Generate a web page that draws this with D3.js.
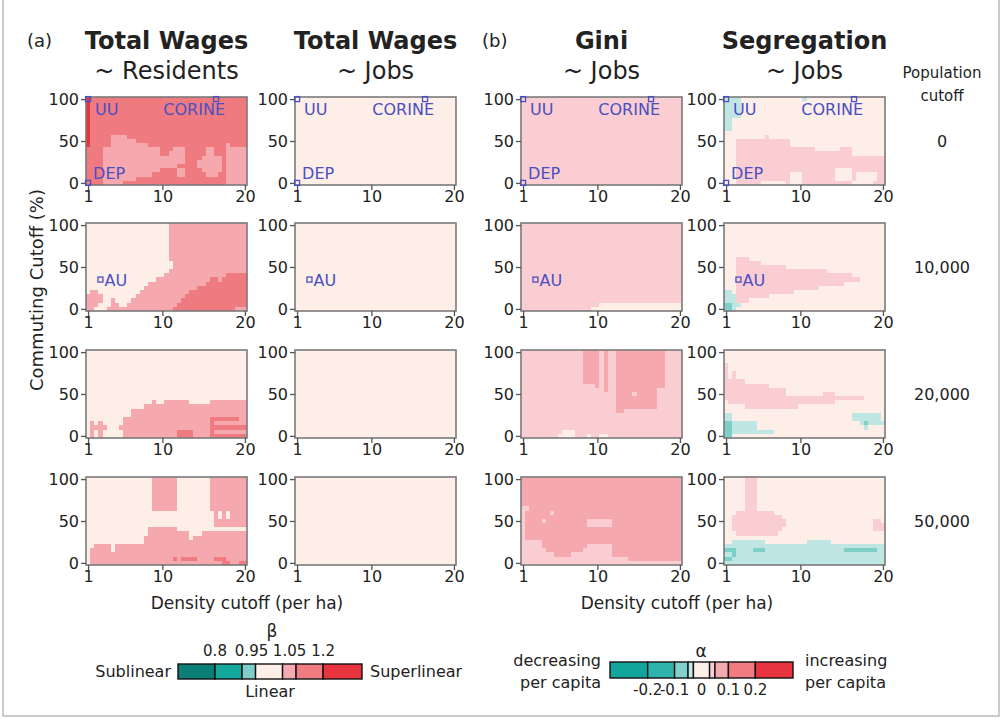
<!DOCTYPE html>
<html><head><meta charset="utf-8">
<script src="https://cdn.jsdelivr.net/npm/d3@7"></script>
<style>body{margin:0;background:#fff}svg{display:block}text{font-family:"DejaVu Sans",Verdana,sans-serif;fill:#222}</style>
</head><body><svg id="chart" width="1002" height="719"></svg>
<script>
// ---------------- data ----------------
const populationCutoffs = ["0", "10,000", "20,000", "50,000"];
const panelTitles = [["Total Wages", "~ Residents"], ["Total Wages", "~ Jobs"], ["Gini", "~ Jobs"], ["Segregation", "~ Jobs"]];
const densityTicks = [1, 10, 20];
const commutingTicks = [0, 50, 100];
const densityCutoffs = d3.range(1, 20.001, 0.5);      // 39 columns
const commutingCutoffs = d3.range(100, -0.001, -5);   // 21 rows (top = 100)

// cell classes, run-length per row (top row = 100 %)
// beta classes: . linear, a 1.05-1.1, b 1.1-1.2, c >1.2
const wagesResidents = [
  ["c1 b38","c1 b38","c1 b38","c1 b38","c1 b38","c1 b38","c1 b38","c1 b38","c1 b38",
   "c1 b5 a4 b29","c1 b5 a6 b27","c1 b5 a9 b19 a1 b4",
   "b4 a14 b3 a3 b5 a2 b3 a5","b4 a14 b2 a4 b5 a2 b3 a5","b4 a20 b4 a5 b1 a5",
   "b4 a20 b3 a6 b1 a5","b4 a18 b5 a6 b1 a5","b4 a14 b4 a2 b4 a5 b1 a5",
   "b4 a12 b6 a2 b5 a3 b2 a5","b4 a8 b22 a5","b4 a5 b25 a5"],
  [".20 a19",".20 a19",".20 a19",".20 a19",".20 a19",".20 a19",".20 a19",".20 a19",".20 a19",
   ".21 a18",".21 a18",".20 a19",".19 a15 b5",".17 a13 b2 a1 b6",".15 a14 b10",
   ".14 a13 b12",".1 a2 .10 a12 b14","a4 .8 a12 b15","a4 .2 a1 .4 a12 b16",
   "a3 .3 a2 .2 a12 b17","a2 .3 a16 b15 a3"],
  [".39",".39",".39",".39",".39",".39",".39",".39",".39",".39",".39",".39",
   ".16 a1 .2 a6 .5 a9",".14 a25",".11 a28",".11 a28",".9 a21 b7 a2",
   ".1 a1 .1 a1 .5 a21 b1 a8",".1 a4 .3 a22 b9",".1 a1 .1 a1 .5 a13 b4 a4 b1 a8",
   ".1 a1 .1 a1 .5 a13 b4 a4 b9"],
  [".16 a6 .8 a9",".16 a6 .8 a9",".16 a6 .8 a9",".16 a6 .8 a9",".16 a6 .8 a9",".16 a6 .8 a9",
   ".16 a6 .8 a9",".16 a6 .8 a9",".31 a1 .1 a1 .1 a4",".31 a1 .1 a1 .1 a4",".31 a8",".31 a8",
   ".15 a7 .17",".15 a10 .3 a11",".14 a11 .1 a13",".14 a25",".2 a4 .1 a32",".1 a5 .1 a32",
   ".1 a38",".1 a20 b1 a1 b4 a4 b3 a5",".1 a32 b2 a2 b2"]
];
const wagesJobs = [[".39"], [".39"], [".39"], [".39"]];
// alpha classes: . linear, p 0.03-0.05, a 0.05-0.1, b 0.1-0.2, q -0.05..-0.03, t -0.1..-0.05
const giniJobs = [
  ["p39"],
  ["p39","p39","p39","p39","p39","p39","p39","p39","p39","p39","p39","p39","p39","p39",
   "p39","p39","p39","p39","p39","p19 .20","p17 .22"],
  ["p15 a4 p1 a1 p2 a12 p4","p15 a4 p1 a1 p2 a12 p4","p15 a4 p1 a1 p2 a12 p4","p15 a4 p1 a1 p2 a12 p4",
   "p15 a4 p1 a1 p2 a12 p4","p15 a4 p1 a1 p2 a12 p4","p15 a4 p1 a1 p2 a12 p4","p15 a4 p1 a1 p2 a12 p4",
   "p18 a1 p1 a1 p2 a12 p4","p20 a1 p2 a10 p6","p23 a4 p1 a5 p6","p23 a10 p6","p23 a10 p6",
   "p23 a10 p6","p23 a2 p14","p39","p39","p39","p39","p10 .3 p26","p9 .4 p3 .1 p2 .2 p18"],
  ["a39","a39","a39","a39","a39","a39","a39","p2 a37","p1 a6 p1 a31","p1 a38",
   "p1 a4 p1 a10 p6 a17","p1 a15 p6 a17","p1 a38","p1 a38","p1 a38","p5 a34",
   "p5 a11 p6 a17","p6 a9 p7 a17","p8 a4 p10 a17","p26 a13","p39"]
];
const segregationJobs = [
  ["q4 .15 q1 .19","q4 .35","q4 .35","q4 .35","q4 .35","q2 .37","q2 .37","q2 .37",".39",
   ".10 p1 .28",".3 p13 .23",".3 p13 .23",".3 p19 .6 p3 .8",".3 p28 .8",".3 p36",".3 p36",
   ".3 p36",".3 p24 .4 p8",".3 p13 .3 p8 .4 p1 .5 p2",".3 p13 .3 p8 .4 p1 .5 p2",
   ".3 p6 .6 p1 .3 p12 .5 p3"],
  [".39",".39",".39",".39",".39",".39",".39",".39",".3 p3 .33",".3 p6 .30",".3 p12 .24",
   ".3 p22 .14",".3 p28 .8",".3 p30 .6",".3 p26 .10",".3 p20 .16","q2 .1 p14 .22",
   "q3 p8 .28","q3 p3 .33","t2 q2 .35","t2 q1 .36"],
  [".39",".39",".39","p1 .38","p1 .38","p1 .1 p1 .36","p1 .1 p1 .36","p5 .34","p11 .28",
   "p15 .24","p15 .9 p3 .12","p34 .5",".1 p26 .12",".5 p13 .21",".39","q2 .29 q7 .1",
   "q2 .29 q7 .1","t2 q6 .25 q1 t1 q4","t2 q6 .26 q1 .4","t2 q10 .27","t2 .37"],
  [".5 p3 .31",".5 p3 .31",".5 p3 .31",".5 p3 .31",".5 p3 .31",".5 p3 .31",".5 p3 .31",
   ".5 p3 .31",".3 p9 .27",".2 p12 .25",".2 p13 .21 p2 .1",".2 p13 .21 p3",".2 p12 .22 p3",
   ".3 p10 .26",".39",".2 q8 .10 q6 .13","q39","t3 q4 t3 q19 t8 q2","q2 t1 q36","t2 q37","q39"]
];
const panelData = [wagesResidents, wagesJobs, giniJobs, segregationJobs];

// annotations (density, commuting)
const markersPop0 = [{label: "UU", x: 1, y: 100}, {label: "CORINE", x: 16.5, y: 100}, {label: "DEP", x: 1, y: 0}];
const markersPop10k = [{label: "AU", x: 2.5, y: 35}];

// legends
const betaEdges = [0.663, 0.8, 0.9, 0.95, 1.05, 1.1, 1.2, 1.344];
const betaColors = ["#0b7f76", "#14a89f", "#7fcdc8", "#fdeee8", "#f6aab0", "#f07b80", "#e8343f"];
const betaTicks = [0.8, 0.95, 1.05, 1.2];
const alphaEdges = [-0.34, -0.2, -0.1, -0.05, -0.03, 0.03, 0.05, 0.1, 0.2, 0.34];
const alphaColors = ["#12a59c", "#30b3ab", "#82d0cb", "#c5e9e6", "#fdeee8", "#f9cdd1", "#f5aab0", "#f07b80", "#e8343f"];
const alphaTicks = [-0.2, -0.1, 0, 0.1, 0.2];

const cellColor = {".": "#fdeee8", p: "#f9cdd1", a: "#f5a9ae", b: "#ef7b80", c: "#e8343f",
                   q: "#bfe6e2", t: "#7fcfc9", u: "#3cb4ac", v: "#12a59c"};

// ---------------- layout ----------------
const svg = d3.select("#chart");
const colX = [86, 295, 521, 724], panelW = 161;
const rowY = [97, 223, 350, 477], panelH = 88;
const blue = "#4a4fc2";

svg.append("rect").attr("x", 3).attr("y", -2).attr("width", 996).attr("height", 718)
  .attr("fill", "none").attr("stroke", "#999").attr("stroke-width", 1);

function decode(rows) {
  const full = rows.length === 1 ? Array(commutingCutoffs.length).fill(rows[0]) : rows;
  const cells = [];
  full.forEach((r, ri) => {
    let ci = 0;
    r.trim().split(/\s+/).forEach(tok => {
      const k = tok[0], n = +tok.slice(1);
      for (let i = 0; i < n; i++) { if (ci < densityCutoffs.length) cells.push({x: densityCutoffs[ci], y: commutingCutoffs[ri], k}); ci++; }
    });
  });
  return cells;
}

panelData.forEach((col, c) => {
  col.forEach((rows, r) => {
    const x0 = colX[c], y0 = rowY[r];
    const xs = d3.scaleLinear().domain([0.75, 20.25]).range([x0, x0 + panelW]);
    const ys = d3.scaleLinear().domain([-2.5, 102.5]).range([y0 + panelH, y0]);
    const g = svg.append("g");
    g.selectAll("rect.cell").data(decode(rows)).join("rect").attr("class", "cell")
      .attr("x", d => xs(d.x - 0.25)).attr("y", d => ys(d.y + 2.5))
      .attr("width", xs(1.25) - xs(0.75) + 0.4).attr("height", ys(0) - ys(5) + 0.4)
      .attr("fill", d => cellColor[d.k]).attr("shape-rendering", "crispEdges");
    g.append("rect").attr("x", x0).attr("y", y0).attr("width", panelW).attr("height", panelH)
      .attr("fill", "none").attr("stroke", "#7a7a7a").attr("stroke-width", 1.6);
    const ya = g.append("g").attr("transform", `translate(${x0},0)`)
      .call(d3.axisLeft(ys).tickValues(commutingTicks).tickSize(5).tickPadding(2));
    const xa = g.append("g").attr("transform", `translate(0,${y0 + panelH})`)
      .call(d3.axisBottom(xs).tickValues(densityTicks).tickSize(5).tickPadding(1));
    [ya, xa].forEach(a => {
      a.select(".domain").remove();
      a.selectAll("line").attr("stroke", "#555").attr("stroke-width", 1.3);
      a.selectAll("text").attr("font-size", 16).attr("fill", "#222")
        .attr("font-family", '"DejaVu Sans",Verdana,sans-serif');
    });
    const marks = r === 0 ? markersPop0 : r === 1 ? markersPop10k : [];
    marks.forEach(m => {
      g.append("rect").attr("x", xs(m.x) - 2.5).attr("y", ys(m.y) - 2.5).attr("width", 5).attr("height", 5)
        .attr("fill", "none").attr("stroke", blue).attr("stroke-width", 1.3);
      const t = g.append("text").text(m.label).attr("font-size", 16).style("fill", blue);
      if (m.label === "UU") t.attr("x", xs(m.x) + 7).attr("y", ys(m.y) + 16);
      else if (m.label === "CORINE") t.attr("x", xs(m.x) + 9).attr("y", ys(m.y) + 16).attr("text-anchor", "end");
      else if (m.label === "DEP") t.attr("x", xs(m.x) + 5).attr("y", ys(m.y) - 4);
      else t.attr("x", xs(m.x) + 4).attr("y", ys(m.y) + 6);
    });
  });
});

// titles
panelTitles.forEach((t, c) => {
  const cx = colX[c] + panelW / 2;
  svg.append("text").attr("x", cx).attr("y", 49).attr("text-anchor", "middle")
    .attr("font-size", 24).attr("font-weight", "bold").text(t[0]);
  svg.append("text").attr("x", cx).attr("y", 79).attr("text-anchor", "middle")
    .attr("font-size", 24).text(t[1]);
});
svg.append("text").attr("x", 27).attr("y", 47).attr("font-size", 18).text("(a)");
svg.append("text").attr("x", 482).attr("y", 47).attr("font-size", 18).text("(b)");
svg.append("text").attr("x", 942).attr("y", 78).attr("text-anchor", "middle").attr("font-size", 15).text("Population");
svg.append("text").attr("x", 942).attr("y", 101).attr("text-anchor", "middle").attr("font-size", 15).text("cutoff");
populationCutoffs.forEach((p, r) => {
  svg.append("text").attr("x", 942).attr("y", rowY[r] + panelH / 2 + 6).attr("text-anchor", "middle")
    .attr("font-size", 16).text(p);
});
svg.append("text").attr("transform", "translate(43,290) rotate(-90)").attr("text-anchor", "middle")
  .attr("font-size", 18).text("Commuting Cutoff (%)");
svg.append("text").attr("x", 247).attr("y", 609).attr("text-anchor", "middle").attr("font-size", 17).text("Density cutoff (per ha)");
svg.append("text").attr("x", 677).attr("y", 609).attr("text-anchor", "middle").attr("font-size", 17).text("Density cutoff (per ha)");

// beta legend
const bs = d3.scaleLinear().domain([betaEdges[0], betaEdges[betaEdges.length - 1]]).range([178, 362]);
const lb = svg.append("g");
lb.selectAll("rect").data(betaColors).join("rect")
  .attr("x", (d, i) => bs(betaEdges[i])).attr("y", 664)
  .attr("width", (d, i) => bs(betaEdges[i + 1]) - bs(betaEdges[i])).attr("height", 15)
  .attr("fill", d => d).attr("stroke", "#111").attr("stroke-width", 1.4);
const betaDx = {0.95: -4, 1.05: 7};
lb.selectAll("text.tk").data(betaTicks).join("text").attr("class", "tk")
  .attr("x", d => bs(d) + (betaDx[d] || 0)).attr("y", 656).attr("text-anchor", "middle")
  .attr("font-size", 15).text(d => d);
lb.append("text").attr("x", 272).attr("y", 637).attr("text-anchor", "middle").attr("font-size", 17).text("β");
lb.append("text").attr("x", 171).attr("y", 677).attr("text-anchor", "end").attr("font-size", 16).text("Sublinear");
lb.append("text").attr("x", 370).attr("y", 677).attr("font-size", 16).text("Superlinear");
lb.append("text").attr("x", 270).attr("y", 697).attr("text-anchor", "middle").attr("font-size", 16).text("Linear");

// alpha legend
const as = d3.scaleLinear().domain([alphaEdges[0], alphaEdges[alphaEdges.length - 1]]).range([610, 793]);
const la = svg.append("g");
la.selectAll("rect").data(alphaColors).join("rect")
  .attr("x", (d, i) => as(alphaEdges[i])).attr("y", 662)
  .attr("width", (d, i) => as(alphaEdges[i + 1]) - as(alphaEdges[i])).attr("height", 16)
  .attr("fill", d => d).attr("stroke", "#111").attr("stroke-width", 1.4);
la.selectAll("text.tk").data(alphaTicks).join("text").attr("class", "tk")
  .attr("x", d => as(d)).attr("y", 695).attr("text-anchor", "middle")
  .attr("font-size", 15).text(d => d);
la.append("text").attr("x", 701).attr("y", 657).attr("text-anchor", "middle").attr("font-size", 17).text("α");
la.append("text").attr("x", 601).attr("y", 666).attr("text-anchor", "end").attr("font-size", 16).text("decreasing");
la.append("text").attr("x", 601).attr("y", 688).attr("text-anchor", "end").attr("font-size", 16).text("per capita");
la.append("text").attr("x", 805).attr("y", 666).attr("font-size", 16).text("increasing");
la.append("text").attr("x", 805).attr("y", 688).attr("font-size", 16).text("per capita");
</script></body></html>
